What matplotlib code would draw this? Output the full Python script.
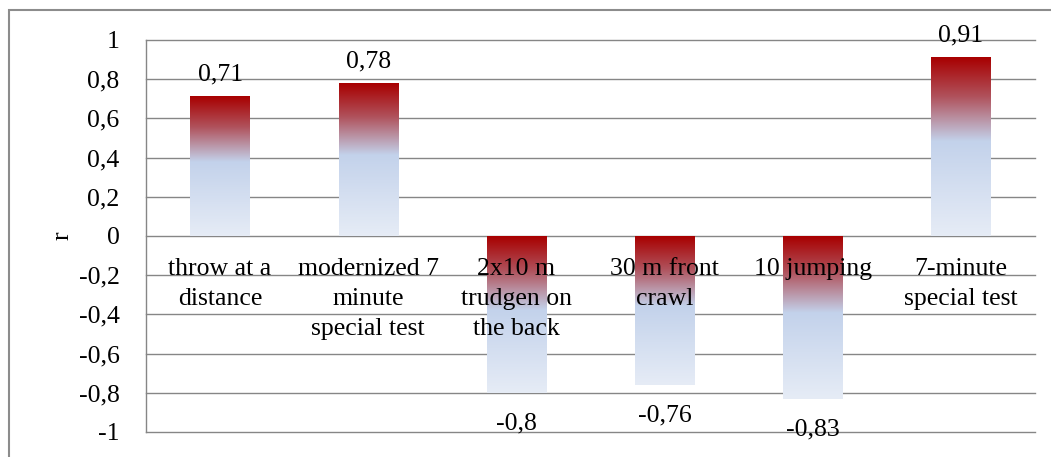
import matplotlib.pyplot as plt
import numpy as np
from matplotlib.colors import LinearSegmentedColormap
from matplotlib.patches import Rectangle

categories = ["throw at a\ndistance", "modernized 7\nminute\nspecial test", "2x10 m\ntrudgen on\nthe back",
              "30 m front\ncrawl", "10 jumping", "7-minute\nspecial test"]
values = [0.71, 0.78, -0.8, -0.76, -0.83, 0.91]
value_labels = ["0,71", "0,78", "-0,8", "-0,76", "-0,83", "0,91"]
y_ticks = [1, 0.8, 0.6, 0.4, 0.2, 0, -0.2, -0.4, -0.6, -0.8, -1]
y_tick_labels = ["1", "0,8", "0,6", "0,4", "0,2", "0", "-0,2", "-0,4", "-0,6", "-0,8", "-1"]

plt.rcParams['font.family'] = ['Liberation Serif', 'DejaVu Serif']
fs = 18.5
grid_color = "#868686"

# gradient: dark red at the top of every bar, fading to pale blue at the bottom
grad_cmap = LinearSegmentedColormap.from_list(
    "bar_grad", [(0.0, "#A80000"), (0.22, "#B0525C"), (0.47, "#C3D2EB"), (1.0, "#E6ECF6")])
grad = np.linspace(0, 1, 256).reshape(-1, 1)

fig = plt.figure(figsize=(10.51, 4.57), dpi=100)
ax = fig.add_axes([146 / 1051, 25 / 457, 889 / 1051, 392 / 457])

x = np.arange(len(values))
bars = ax.bar(x, values, width=0.4, facecolor="none", edgecolor="none", zorder=3)

for b in bars:
    x0, y0 = b.get_x(), b.get_y()
    w, h = b.get_width(), b.get_height()
    bottom, top = min(y0, y0 + h), max(y0, y0 + h)
    ax.imshow(grad, cmap=grad_cmap, extent=[x0, x0 + w, bottom, top], aspect="auto",
              origin="upper", zorder=2, interpolation="bilinear")

# value labels
for xi, v, lab in zip(x, values, value_labels):
    if v >= 0:
        ax.annotate(lab, xy=(xi, v), xytext=(0, 8), textcoords="offset points",
                    ha="center", va="bottom", fontsize=fs, zorder=5)
    else:
        ax.annotate(lab, xy=(xi, v), xytext=(0, -14), textcoords="offset points",
                    ha="center", va="top", fontsize=fs, zorder=5)

# category labels just under the zero line
for xi, cat in zip(x, categories):
    ax.annotate(cat, xy=(xi, 0), xytext=(0, -16), textcoords="offset points",
                ha="center", va="top", fontsize=fs, linespacing=1.47, zorder=5)

ax.set_xlim(-0.5, len(values) - 0.5)
ax.set_ylim(-1, 1)
ax.set_yticks(y_ticks)
ax.set_yticklabels(y_tick_labels, fontsize=fs)
ax.set_xticks([])
ax.tick_params(axis="y", length=0, pad=19)
ax.yaxis.grid(True, color=grid_color, linewidth=1.0, zorder=0)
for gl in ax.get_ygridlines():
    gl.set_clip_on(False)
ax.set_axisbelow(True)

for side in ["top", "right", "bottom"]:
    ax.spines[side].set_visible(False)
ax.spines["left"].set_color(grid_color)
ax.spines["left"].set_linewidth(1.0)

ax.set_ylabel("r", fontsize=fs, labelpad=4)

# outer chart frame
fig.patches.append(Rectangle((9 / 1051, -0.05), 1.1, 1.05 - 10 / 457, transform=fig.transFigure,
                             fill=False, edgecolor="#8C8C8C", linewidth=1.5))

fig.savefig("out.png", dpi=100)
